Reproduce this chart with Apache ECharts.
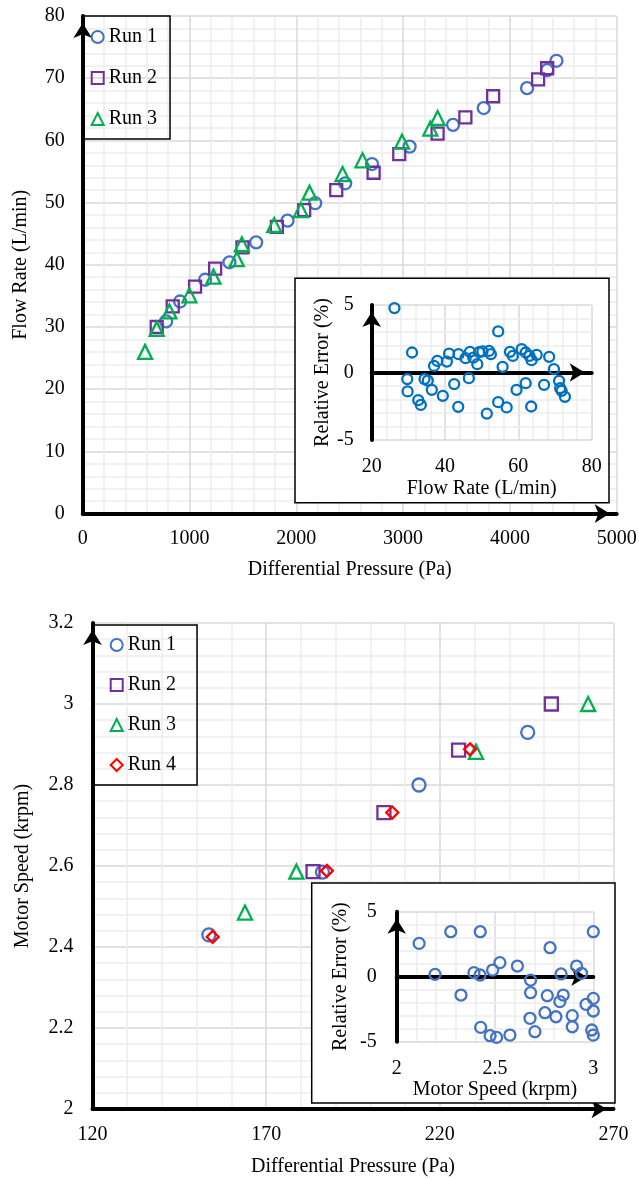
<!DOCTYPE html>
<html><head><meta charset="utf-8">
<script src="https://cdn.jsdelivr.net/npm/echarts@6/dist/echarts.min.js"></script>
<style>html,body{margin:0;padding:0;background:#fff}
#c1{position:absolute;left:0;top:0;width:639px;height:600px}
#c2{position:absolute;left:0;top:600px;width:639px;height:580px}</style>
</head><body><div id="c1"></div><div id="c2"></div>
<script>
// ---------- Top chart data ----------
const run1Pressure = [781, 912, 1146, 1374, 1624, 1918, 2177, 2458, 2709, 3061, 3468, 3755, 4161, 4349, 4436];
const run1Flow     = [30.9, 34.1, 37.6, 40.4, 43.6, 47.1, 49.9, 53.1, 56.2, 59.0, 62.5, 65.2, 68.4, 71.3, 72.8];
const run2Pressure = [693, 843, 1052, 1240, 1496, 1818, 2074, 2374, 2724, 2964, 3323, 3583, 3843, 4264, 4349];
const run2Flow     = [30.0, 33.3, 36.5, 39.4, 42.8, 46.1, 48.8, 52.0, 54.8, 57.8, 61.1, 63.7, 67.1, 69.8, 71.6];
const run3Pressure = [584, 693, 812, 999, 1224, 1443, 1490, 1793, 2043, 2124, 2433, 2620, 2990, 3255, 3323];
const run3Flow     = [26.0, 29.7, 32.5, 35.1, 38.1, 40.9, 43.3, 46.4, 48.8, 51.6, 54.6, 56.8, 59.8, 61.9, 63.6];
const flowErrFlow  = [26.2, 31.0, 29.7, 29.8, 32.7, 33.4, 34.4, 35.3, 36.4, 37.0, 37.9, 39.4, 40.5, 41.1, 42.5, 43.6, 43.7, 45.6, 46.5, 46.8, 47.7, 48.8, 49.3, 50.2, 51.4, 52.0, 52.5, 54.5, 54.5, 55.7, 56.8, 57.7, 58.5, 59.5, 60.9, 62.0, 62.0, 63.0, 63.6, 63.5, 65.0, 67.0, 68.4, 69.7, 71.1, 71.4, 71.8, 72.7];
const flowErrValue = [4.77, 1.48, -0.49, -1.4, -2.05, -2.4, -0.49, -0.6, -1.28, 0.49, 0.86, -1.73, 0.81, 1.4, -0.86, -2.54, 1.36, 1.06, -0.42, 1.53, 1.1, 0.62, 1.5, 1.56, -3.04, 1.6, 1.36, 3.04, -2.2, 0.42, -2.59, 1.53, 1.23, -1.28, 1.73, 1.48, -0.79, 1.23, 0.91, -2.52, 1.31, -0.91, 1.16, 0.25, -0.62, -1.16, -1.36, -1.8];

// ---------- Bottom chart data ----------
const b1Pressure = [153.5, 186.2, 214.0, 245.3];
const b1Speed    = [2.43, 2.585, 2.80, 2.93];
const b2Pressure = [183.5, 203.9, 225.4, 252.1];
const b2Speed    = [2.586, 2.732, 2.886, 3.0];
const b3Pressure = [163.9, 178.7, 230.4, 262.7];
const b3Speed    = [2.485, 2.586, 2.882, 3.0];
const b4Pressure = [154.6, 187.5, 206.3, 228.7];
const b4Speed    = [2.425, 2.588, 2.732, 2.888];
const speedErrSpeed = [2.114, 2.195, 2.275, 2.327, 2.425, 2.393, 2.424, 2.427, 2.475, 2.508, 2.488, 2.525, 2.576, 2.614, 2.681, 2.681, 2.678, 2.703, 2.754, 2.766, 2.78, 2.81, 2.836, 2.847, 2.83, 2.893, 2.893, 2.915, 2.94, 2.963, 3.0, 3.0, 3.0, 2.992, 3.0];
const speedErrValue = [2.56, 0.18, 3.46, -1.41, 3.46, 0.31, 0.13, -3.9, -4.54, -4.67, 0.51, 1.08, -4.49, 0.82, -0.26, -1.23, -3.2, -4.23, -2.77, -1.46, 2.23, -3.08, 0.21, -1.41, -1.92, -3.0, -3.85, 0.82, 0.26, -2.13, 3.46, -1.67, -2.64, -4.1, -4.49];

const legendNames1 = ['Run 1', 'Run 2', 'Run 3'];
const legendNames2 = ['Run 1', 'Run 2', 'Run 3', 'Run 4'];

// ---------- styles ----------
const FONT = "'Liberation Serif', 'Times New Roman', serif";
const BLUE = '#4472C4', PURPLE = '#7030A0', GREEN = '#00B050', RED = '#FF0000', INSET_BLUE = '#0070C0';
const pairs = (xs, ys) => xs.map((x, i) => [x, ys[i]]);
const plainNum = v => String(+(+v).toFixed(4));

function arrowLine(show, onZero) {
  return { show: show, onZero: onZero, symbol: ['none', 'arrow'], symbolSize: [14, 15], symbolOffset: [0, -7],
           lineStyle: { color: '#000', width: 4 } };
}
function valAxis(o) {
  const base = {
    type: 'value', z: o.z || 0,
    axisTick: { show: false },
    minorTick: { show: false, splitNumber: 5 },
    splitLine: { show: true, lineStyle: { color: '#d9d9d9', width: 1.5 } },
    minorSplitLine: { show: true, lineStyle: { color: '#ededed', width: 1.5 } },
    axisLabel: { show: true, fontSize: 20, fontFamily: FONT, color: '#000', margin: o.margin, formatter: plainNum,
                 showMinLabel: true, showMaxLabel: true, hideOverlap: false },
    nameLocation: 'middle', nameGap: o.nameGap,
    nameTextStyle: { fontSize: 20, fontFamily: FONT, color: '#000' }
  };
  return Object.assign(base, o.extra);
}
function scatter(name, data, symbol, size, color, xi, yi, z, bw) {
  return { type: 'scatter', name: name, data: data, symbol: symbol, symbolSize: size,
           xAxisIndex: xi, yAxisIndex: yi, z: z, clip: false, silent: true,
           itemStyle: { color: 'rgba(0,0,0,0)', borderColor: color, borderWidth: bw || 2.3, opacity: 1 },
           emphasis: { disabled: true } };
}
function legend(names, left, top, padding, gap) {
  return { data: names, orient: 'vertical', left: left, top: top, padding: padding, itemGap: gap,
           itemWidth: 12, itemHeight: 12, borderColor: '#000', borderWidth: 1.5, borderRadius: 0,
           backgroundColor: 'rgba(0,0,0,0)', selectedMode: false,
           itemStyle: { borderWidth: 2 },
           textStyle: { fontSize: 20, fontFamily: FONT, color: '#000' } };
}

// ---------- Chart 1 ----------
const chart1 = echarts.init(document.getElementById('c1'));
chart1.setOption({
  animation: false,
  backgroundColor: '#fff',
  legend: legend(legendNames1, 82.7, 16, [11, 13, 10, 8], 21),
  graphic: [{ type: 'rect', z: 1, shape: { x: 295, y: 278.3, width: 314, height: 224.4 },
              style: { fill: '#fff', stroke: '#000', lineWidth: 1.5 } }],
  grid: [
    { left: 82.7, top: 16, width: 534, height: 497.6, outerBoundsMode: 'none', containLabel: false },
    { left: 371.7, top: 305, width: 220, height: 135, outerBoundsMode: 'none', containLabel: false }
  ],
  xAxis: [
    valAxis({ margin: 15, nameGap: 46, extra: { gridIndex: 0, min: 0, max: 5000, interval: 1000,
      name: 'Differential Pressure (Pa)', axisLine: arrowLine(true, false) } }),
    valAxis({ margin: 17, nameGap: 39, z: 2, extra: { gridIndex: 1, min: 20, max: 80, interval: 20, position: 'bottom',
      name: 'Flow Rate (L/min)', axisLine: { show: false, onZero: false } } }),
    { type: 'value', gridIndex: 1, min: 20, max: 80, interval: 20, position: 'top', z: 3,
      axisLine: arrowLine(true, true), axisLabel: { show: false }, axisTick: { show: false },
      splitLine: { show: false } }
  ],
  yAxis: [
    valAxis({ margin: 18, nameGap: 52, extra: { gridIndex: 0, min: 0, max: 80, interval: 10,
      name: 'Flow Rate (L/min)', axisLine: arrowLine(true, false) } }),
    valAxis({ margin: 18, nameGap: 37, z: 3, extra: { gridIndex: 1, min: -5, max: 5, interval: 5,
      name: 'Relative Error (%)', axisLine: arrowLine(true, false) } })
  ],
  series: [
    scatter('Run 1', pairs(run1Pressure, run1Flow), 'circle', 12, BLUE, 0, 0, 2),
    scatter('Run 2', pairs(run2Pressure, run2Flow), 'rect', 12, PURPLE, 0, 0, 2),
    scatter('Run 3', pairs(run3Pressure, run3Flow), 'triangle', 14, GREEN, 0, 0, 2),
    scatter('Error', pairs(flowErrFlow, flowErrValue), 'circle', 10, INSET_BLUE, 1, 1, 4, 2.3)
  ]
});

// ---------- Chart 2 ----------
const chart2 = echarts.init(document.getElementById('c2'));
chart2.setOption({
  animation: false,
  backgroundColor: '#fff',
  legend: legend(legendNames2, 92.7, 25, [10, 21, 10, 17], 20),
  graphic: [{ type: 'rect', z: 1, shape: { x: 311.7, y: 283, width: 303.3, height: 220 },
              style: { fill: '#fff', stroke: '#000', lineWidth: 1.5 } }],
  grid: [
    { left: 92.5, top: 23, width: 521, height: 486, outerBoundsMode: 'none', containLabel: false },
    { left: 396.7, top: 311.7, width: 196.6, height: 130, outerBoundsMode: 'none', containLabel: false }
  ],
  xAxis: [
    valAxis({ margin: 16, nameGap: 48, extra: { gridIndex: 0, min: 120, max: 270, interval: 50,
      name: 'Differential Pressure (Pa)', axisLine: arrowLine(true, false) } }),
    valAxis({ margin: 17, nameGap: 35, z: 2, extra: { gridIndex: 1, min: 2, max: 3, interval: 0.5, position: 'bottom',
      name: 'Motor Speed (krpm)', axisLine: { show: false, onZero: false } } }),
    { type: 'value', gridIndex: 1, min: 2, max: 3, interval: 0.5, position: 'top', z: 3,
      axisLine: arrowLine(true, true), axisLabel: { show: false }, axisTick: { show: false },
      splitLine: { show: false } }
  ],
  yAxis: [
    valAxis({ margin: 19, nameGap: 60, extra: { gridIndex: 0, min: 2, max: 3.2, interval: 0.2,
      name: 'Motor Speed (krpm)', axisLine: arrowLine(true, false) } }),
    valAxis({ margin: 20, nameGap: 46, z: 3, extra: { gridIndex: 1, min: -5, max: 5, interval: 5,
      name: 'Relative Error (%)', axisLine: arrowLine(true, false) } })
  ],
  series: [
    scatter('Run 1', pairs(b1Pressure, b1Speed), 'circle', 13, BLUE, 0, 0, 2),
    scatter('Run 2', pairs(b2Pressure, b2Speed), 'rect', 13, PURPLE, 0, 0, 2),
    scatter('Run 3', pairs(b3Pressure, b3Speed), 'triangle', 14, GREEN, 0, 0, 2),
    scatter('Run 4', pairs(b4Pressure, b4Speed), 'diamond', 12, RED, 0, 0, 2),
    scatter('Error', pairs(speedErrSpeed, speedErrValue), 'circle', 11, BLUE, 1, 1, 4, 2.3)
  ]
});
</script></body></html>
